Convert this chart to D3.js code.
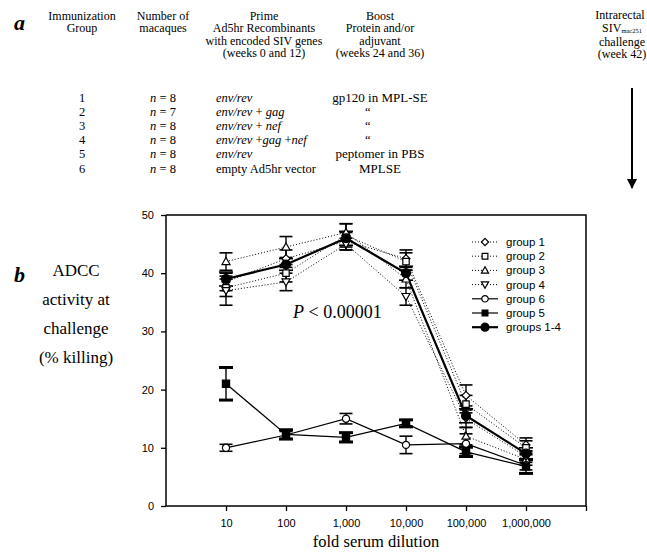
<!DOCTYPE html>
<html>
<head>
<meta charset="utf-8">
<script src="https://cdn.jsdelivr.net/npm/d3@7"></script>
<style>
  body { margin: 0; background: #fff; }
  svg { display: block; }
  .serif { font-family: "Liberation Serif", "Times New Roman", serif; }
  .sans { font-family: "Liberation Sans", Arial, sans-serif; }
</style>
</head>
<body>
<div id="chart"></div>
<script>
// panel a table data
let groupIds = ['1', '2', '3', '4', '5', '6']
let nValues = [8, 7, 8, 8, 8, 8]
let primes = ['env/rev', 'env/rev + gag', 'env/rev + nef', 'env/rev +gag +nef', 'env/rev', 'empty Ad5hr vector']
let boosts = ['gp120 in MPL-SE', '\u201C', '\u201C', '\u201C', 'peptomer in PBS', 'MPLSE']

// panel b data
let dilutions = [10, 100, 1000, 10000, 100000, 1000000]
let xTickValues = [10, 100, 1000, 10000, 100000, 1000000, 10000000]
let yTickValues = [0, 10, 20, 30, 40, 50]

let group1 = [38.5, 42.5, 45.5, 42.5, 19, 10.5]
let group1Err = [1.5, 1.5, 1.5, 1.5, 1.8, 1.2]
let group2 = [37.5, 40, 46.5, 42, 17.5, 10]
let group2Err = [1.5, 1.5, 2, 1.5, 1.5, 1.2]
let group3 = [42, 44.5, 47, 39, 12, 8]
let group3Err = [1.5, 1.8, 1.5, 1.5, 1.5, 1]
let group4 = [37, 38.5, 45, 36, 15, 8.5]
let group4Err = [2.5, 1.5, 1, 1.5, 1.5, 1]
let group6 = [10, 12.2, 15, 10.5, 10.7, 7]
let group6Err = [0.6, 0.6, 0.9, 1.5, 1.7, 0.8]
let group5 = [21, 12.3, 11.8, 14.2, 9.3, 6.8]
let group5Err = [2.8, 0.8, 0.8, 0.6, 0.8, 1.2]
let groups14 = [39, 41.5, 46, 40, 15.5, 9]
let groups14Err = [1.2, 1, 1.2, 1.2, 1.2, 1]

let series = [
    {name: 'group 1', values: group1, err: group1Err, symbol: 'diamond', fill: '#fff', dash: '1,2', lw: 1},
    {name: 'group 2', values: group2, err: group2Err, symbol: 'square', fill: '#fff', dash: '1,2', lw: 1},
    {name: 'group 3', values: group3, err: group3Err, symbol: 'triangle', fill: '#fff', dash: '1,2', lw: 1},
    {name: 'group 4', values: group4, err: group4Err, symbol: 'triangleDown', fill: '#fff', dash: '1,2', lw: 1},
    {name: 'group 6', values: group6, err: group6Err, symbol: 'circle', fill: '#fff', dash: null, lw: 1.2},
    {name: 'group 5', values: group5, err: group5Err, symbol: 'square', fill: '#000', dash: null, lw: 1.2},
    {name: 'groups 1-4', values: groups14, err: groups14Err, symbol: 'circle', fill: '#000', dash: null, lw: 2.2}
]

let svgWidth = 647
let svgHeight = 552
let tableFont = '12.5px'
let headFont = '12px'

let svg = d3.select('#chart')
    .append('svg')
    .attr('width', svgWidth)
    .attr('height', svgHeight)

// ---------- panel a ----------
svg.append('text')
    .attr('class', 'serif')
    .attr('x', 14).attr('y', 30)
    .style('font-size', '22px').style('font-weight', 'bold').style('font-style', 'italic')
    .text('a')

let headers = [
    {x: 82, lines: ['Immunization', 'Group']},
    {x: 163, lines: ['Number of', 'macaques']},
    {x: 264, lines: ['Prime', 'Ad5hr Recombinants', 'with encoded SIV genes', '(weeks 0 and 12)']},
    {x: 380, lines: ['Boost', 'Protein and/or', 'adjuvant', '(weeks 24 and 36)']}
]
headers.forEach(h => {
    h.lines.forEach((line, i) => {
        svg.append('text')
            .attr('class', 'serif')
            .attr('x', h.x).attr('y', 19.5 + i * 12.6)
            .attr('text-anchor', 'middle')
            .style('font-size', headFont)
            .text(line)
    })
})
// last column, at the right edge
let lastCol = svg.append('g').attr('class', 'serif').style('font-size', headFont)
    .attr('text-anchor', 'middle')
lastCol.append('text').attr('x', 620).attr('y', 19).text('Intrarectal')
let siv = lastCol.append('text').attr('x', 622).attr('y', 32)
siv.append('tspan').text('SIV')
siv.append('tspan').attr('dy', 1).style('font-size', '6.5px').text('mac251')
lastCol.append('text').attr('x', 622).attr('y', 45.5).text('challenge')
lastCol.append('text').attr('x', 622).attr('y', 58).text('(week 42)')

let rowY = d3.scaleLinear().domain([0, 5]).range([101.5, 172.5])
groupIds.forEach((g, i) => {
    let y = rowY(i)
    svg.append('text').attr('class', 'serif').attr('x', 82).attr('y', y)
        .attr('text-anchor', 'middle').style('font-size', tableFont).text(g)
    let nt = svg.append('text').attr('class', 'serif').attr('x', 163).attr('y', y)
        .attr('text-anchor', 'middle').style('font-size', tableFont)
    nt.append('tspan').style('font-style', 'italic').text('n')
    nt.append('tspan').text(' = ' + nValues[i])
    let pt = svg.append('text').attr('class', 'serif').attr('x', 216).attr('y', y)
        .style('font-size', tableFont)
    // italic gene names, upright plus signs / plain words
    if (primes[i].startsWith('empty')) {
        pt.text(primes[i])
    } else {
        primes[i].split(/(\s*\+\s*)/).forEach(part => {
            if (part.indexOf('+') >= 0) {
                pt.append('tspan').style('font-style', 'normal').text(part.replace(/\s+/g, '\u00A0'))
            } else {
                pt.append('tspan').style('font-style', 'italic').text(part)
            }
        })
    }
    svg.append('text').attr('class', 'serif')
        .attr('x', boosts[i].length > 1 ? 380 : 365).attr('y', y)
        .attr('text-anchor', boosts[i].length > 1 ? 'middle' : 'start')
        .style('font-size', boosts[i].length > 1 ? '13px' : tableFont).text(boosts[i])
})

// challenge arrow
svg.append('defs').append('marker')
    .attr('id', 'arrowhead')
    .attr('viewBox', '0 0 10 10')
    .attr('refX', 9).attr('refY', 5)
    .attr('markerWidth', 5).attr('markerHeight', 5)
    .attr('orient', 'auto')
    .append('path').attr('d', 'M0,0 L10,5 L0,10 z').attr('fill', '#000')
svg.append('line')
    .attr('x1', 632).attr('x2', 632)
    .attr('y1', 88).attr('y2', 188)
    .attr('stroke', '#000').attr('stroke-width', 2)
    .attr('marker-end', 'url(#arrowhead)')

// ---------- panel b ----------
svg.append('text')
    .attr('class', 'serif')
    .attr('x', 14).attr('y', 282)
    .style('font-size', '22px').style('font-weight', 'bold').style('font-style', 'italic')
    .text('b')

let yLabel = ['ADCC', 'activity at', 'challenge', '(% killing)']
yLabel.forEach((t, i) => {
    svg.append('text').attr('class', 'serif')
        .attr('x', 76).attr('y', 276 + i * 29)
        .attr('text-anchor', 'middle')
        .style('font-size', '17px')
        .text(t)
})

let plotLeft = 166, plotRight = 586, plotTop = 215, plotBottom = 506

let xScale = d3.scaleLog().domain([1, 10000000]).range([plotLeft, plotRight])
let yScale = d3.scaleLinear().domain([0, 50]).range([plotBottom, plotTop])

let fmt = d3.format(',')
let xAxis = d3.axisBottom(xScale)
    .tickValues(xTickValues)
    .tickSize(5)
    .tickPadding(8)
    .tickFormat(d => d <= 1000000 ? fmt(d) : '')
let yAxis = d3.axisLeft(yScale)
    .tickValues(yTickValues)
    .tickSize(5)
    .tickPadding(7)

let gx = svg.append('g').attr('transform', `translate(0,${plotBottom})`).call(xAxis)
let gy = svg.append('g').attr('transform', `translate(${plotLeft},0)`).call(yAxis)
;[gx, gy].forEach(g => {
    g.selectAll('path').attr('stroke', '#000').attr('stroke-width', 1.5)
    g.selectAll('line').attr('stroke', '#000').attr('stroke-width', 1.3)
    g.selectAll('text').attr('class', 'sans').style('font-size', '11px').attr('fill', '#000')
})
gy.select('.domain').attr('d', `M0,${plotBottom}V${plotTop}`)
gx.select('.domain').attr('d', `M${plotLeft},0H${plotRight}`)

// top and right frame
svg.append('path')
    .attr('d', `M${plotLeft},${plotTop}H${plotRight}V${plotBottom}`)
    .attr('fill', 'none').attr('stroke', '#000').attr('stroke-width', 1.5)

svg.append('text').attr('class', 'serif')
    .attr('x', 376).attr('y', 547)
    .attr('text-anchor', 'middle')
    .style('font-size', '16.5px')
    .text('fold serum dilution')

// P value
let pv = svg.append('text').attr('class', 'serif')
    .attr('x', 293).attr('y', 318)
    .style('font-size', '18px')
pv.append('tspan').style('font-style', 'italic').text('P')
pv.append('tspan').text(' < 0.00001')

let line = d3.line()
    .x((d, i) => xScale(dilutions[i]))
    .y(d => yScale(d))

function symbolPath(type, size) {
    let s = size
    if (type === 'diamond') return `M0,${-s}L${s},0L0,${s}L${-s},0Z`
    if (type === 'square') return `M${-s * 0.8},${-s * 0.8}H${s * 0.8}V${s * 0.8}H${-s * 0.8}Z`
    if (type === 'triangle') return `M0,${-s}L${s},${s * 0.75}H${-s}Z`
    if (type === 'triangleDown') return `M0,${s}L${s},${-s * 0.75}H${-s}Z`
    return d3.symbol().type(d3.symbolCircle).size(Math.PI * s * s * 0.8)()
}

// lines
series.forEach(s => {
    svg.append('path')
        .attr('d', line(s.values))
        .attr('fill', 'none')
        .attr('stroke', '#000')
        .attr('stroke-width', s.lw)
        .attr('stroke-dasharray', s.dash)
})

// error bars
series.forEach(s => {
    s.values.forEach((v, i) => {
        let x = xScale(dilutions[i])
        let hi = yScale(v + s.err[i]), lo = yScale(v - s.err[i])
        let capW = s.name === 'group 5' || s.name === 'groups 1-4' ? 7 : 6.5
        let capS = s.name === 'group 5' ? 3 : 1.6
        let g = svg.append('g')
        g.append('line').attr('x1', x).attr('x2', x).attr('y1', hi).attr('y2', lo)
            .attr('stroke', '#000').attr('stroke-width', 1.4)
        g.append('line').attr('x1', x - capW).attr('x2', x + capW).attr('y1', hi).attr('y2', hi)
            .attr('stroke', '#000').attr('stroke-width', capS)
        g.append('line').attr('x1', x - capW).attr('x2', x + capW).attr('y1', lo).attr('y2', lo)
            .attr('stroke', '#000').attr('stroke-width', capS)
    })
})

// markers
series.forEach(s => {
    let size = s.name === 'groups 1-4' ? 5 : (s.name === 'group 5' ? 4.5 : 4)
    svg.append('g').selectAll('path')
        .data(s.values)
        .join('path')
        .attr('transform', (d, i) => `translate(${xScale(dilutions[i])},${yScale(d)})`)
        .attr('d', symbolPath(s.symbol, size))
        .attr('fill', s.fill)
        .attr('stroke', '#000')
        .attr('stroke-width', 1.2)
})

// legend
let legend = svg.append('g').attr('transform', 'translate(472,242)')
series.forEach((s, i) => {
    let y = i * 14.2
    legend.append('line')
        .attr('x1', 0).attr('x2', 26).attr('y1', y).attr('y2', y)
        .attr('stroke', '#000').attr('stroke-width', s.lw)
        .attr('stroke-dasharray', s.dash)
    legend.append('path')
        .attr('transform', `translate(13,${y})`)
        .attr('d', symbolPath(s.symbol, s.name === 'groups 1-4' ? 4.5 : 3.6))
        .attr('fill', s.fill).attr('stroke', '#000').attr('stroke-width', 1.2)
    legend.append('text').attr('class', 'sans')
        .attr('x', 34).attr('y', y + 4)
        .style('font-size', '11.5px')
        .text(s.name)
})
</script>
</body>
</html>
